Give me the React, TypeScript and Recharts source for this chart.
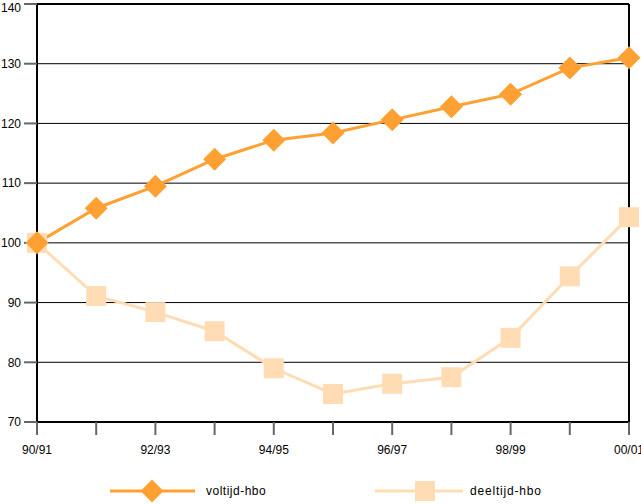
import { LineChart, Line, XAxis, YAxis, CartesianGrid, ReferenceLine, Legend } from 'recharts'

const years = ['90/91', '91/92', '92/93', '93/94', '94/95', '95/96', '96/97', '97/98', '98/99', '99/00', '00/01']
const voltijd = [100, 105.8, 109.5, 114.0, 117.2, 118.4, 120.6, 122.8, 124.9, 129.3, 131.0]
const deeltijd = [100, 91.1, 88.4, 85.2, 79.0, 74.7, 76.4, 77.5, 84.1, 94.4, 104.3]
const yTicks = [70, 80, 90, 100, 110, 120, 130, 140]

const ORANGE = '#ffa033'
const PEACH = '#ffdcb4'

const data = years.map((y, i) => ({ year: y, voltijd: voltijd[i], deeltijd: deeltijd[i] }))

const Diamond = (props: any) => {
  const { cx, cy } = props
  if (cx == null || cy == null) return null
  const r = 11.5
  return <polygon points={`${cx},${cy - r} ${cx + r},${cy} ${cx},${cy + r} ${cx - r},${cy}`} fill={ORANGE} />
}

const Square = (props: any) => {
  const { cx, cy } = props
  if (cx == null || cy == null) return null
  return <rect x={cx - 10} y={cy - 10} width={20} height={20} fill={PEACH} />
}

const XTick = (props: any) => {
  const { x, y, payload, index } = props
  if (index % 2 !== 0) return null
  return (
    <text x={x} y={y + 17} textAnchor="middle" fontSize={12} fill="#000">{payload.value}</text>
  )
}

const LegendBox = () => (
  <svg width={641} height={42}>
    <line x1={110} y1={29} x2={195} y2={29} stroke={ORANGE} strokeWidth={3} />
    <Diamond cx={152} cy={29} />
    <text x={206} y={33} fontSize={12} fill="#000" letterSpacing={0.5}>voltijd-hbo</text>
    <line x1={375} y1={29} x2={463} y2={29} stroke={PEACH} strokeWidth={3} />
    <Square cx={425} cy={29} />
    <text x={470} y={33} fontSize={12} fill="#000" letterSpacing={0.8}>deeltijd-hbo</text>
  </svg>
)

export default function App() {
  return (
    <div style={{ position: 'absolute', left: 0, top: 0, fontFamily: '"Liberation Sans", Arial, sans-serif', background: '#fff' }}>
      <LineChart width={641} height={504} data={data} margin={{ top: 4, right: 12, bottom: 0, left: 0 }}>
        <CartesianGrid horizontal vertical={false} stroke="#000" strokeWidth={1} />
        <XAxis
          dataKey="year"
          interval={0}
          height={40}
          tick={<XTick />}
          tickSize={13}
          tickLine={{ stroke: '#666', strokeWidth: 2 }}
          axisLine={{ stroke: '#000', strokeWidth: 2 }}
        />
        <YAxis
          domain={[70, 140]}
          ticks={yTicks}
          width={37}
          tickSize={13}
          tickMargin={3}
          tick={{ fill: '#000', fontSize: 12 }}
          tickLine={{ stroke: '#666', strokeWidth: 2 }}
          axisLine={{ stroke: '#000', strokeWidth: 2 }}
        />
        <ReferenceLine y={140} stroke="#000" strokeWidth={2} />
        <ReferenceLine x="00/01" stroke="#000" strokeWidth={2} />
        <Legend verticalAlign="bottom" height={42} content={() => <LegendBox />} wrapperStyle={{ left: 0, width: 641 }} />
        <Line dataKey="deeltijd" stroke={PEACH} strokeWidth={3} dot={<Square />} activeDot={false} isAnimationActive={false} />
        <Line dataKey="voltijd" stroke={ORANGE} strokeWidth={3} dot={<Diamond />} activeDot={false} isAnimationActive={false} />
      </LineChart>
    </div>
  )
}
